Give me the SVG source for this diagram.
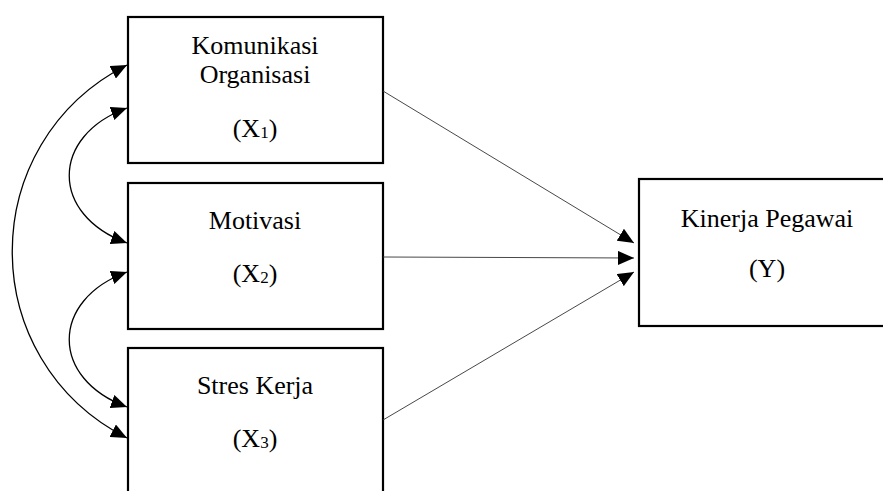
<svg xmlns="http://www.w3.org/2000/svg" width="883" height="491" viewBox="0 0 883 491">
  <style>
    .box { fill: #ffffff; stroke: #000000; stroke-width: 2.2; }
    .lbl { font-family: "Liberation Serif", "Times New Roman", serif; font-size: 26px; fill: #000000; text-anchor: middle; }
    .sub { font-size: 17px; }
    .curve { fill: none; stroke: #000000; stroke-width: 1.3; }
    .path { fill: none; stroke: #333333; stroke-width: 0.9; }
  </style>
  <defs>
    <marker id="arrow" viewBox="0 0 16 14" refX="16" refY="7" markerWidth="16" markerHeight="14" markerUnits="userSpaceOnUse" orient="auto-start-reverse">
      <path d="M0,0 L16,7 L0,14 Z" fill="#000000"/>
    </marker>
  </defs>
  <rect width="883" height="491" fill="#ffffff"/>

  <g id="node-x1">
    <rect class="box" x="128" y="17" width="255" height="146"/>
    <text class="lbl" x="255" y="54">Komunikasi</text>
    <text class="lbl" x="255" y="83">Organisasi</text>
    <text class="lbl" x="255" y="137">(X<tspan class="sub" dy="1">1</tspan><tspan dy="-1">)</tspan></text>
  </g>

  <g id="node-x2">
    <rect class="box" x="128" y="183" width="255" height="146"/>
    <text class="lbl" x="255" y="229">Motivasi</text>
    <text class="lbl" x="255" y="282">(X<tspan class="sub" dy="1">2</tspan><tspan dy="-1">)</tspan></text>
  </g>

  <g id="node-x3">
    <rect class="box" x="128" y="348" width="255" height="170"/>
    <text class="lbl" x="255" y="394">Stres Kerja</text>
    <text class="lbl" x="255" y="447">(X<tspan class="sub" dy="1">3</tspan><tspan dy="-1">)</tspan></text>
  </g>

  <g id="node-y">
    <rect class="box" x="639" y="179" width="260" height="147"/>
    <text class="lbl" x="767" y="227">Kinerja Pegawai</text>
    <text class="lbl" x="767" y="277">(Y)</text>
  </g>

  <g id="connectors">
    <path class="curve" d="M127,65 C-26,143 -26,360 127,438" marker-start="url(#arrow)" marker-end="url(#arrow)"/>
    <path class="curve" d="M127,108 C50,136 50,215 127,243" marker-start="url(#arrow)" marker-end="url(#arrow)"/>
    <path class="curve" d="M127,272 C50,300 50,379 127,407" marker-start="url(#arrow)" marker-end="url(#arrow)"/>
    <line class="path" x1="383" y1="91" x2="634" y2="243" marker-end="url(#arrow)"/>
    <line class="path" x1="383" y1="257" x2="634" y2="258" marker-end="url(#arrow)"/>
    <line class="path" x1="383" y1="420" x2="634" y2="272" marker-end="url(#arrow)"/>
  </g>
</svg>
